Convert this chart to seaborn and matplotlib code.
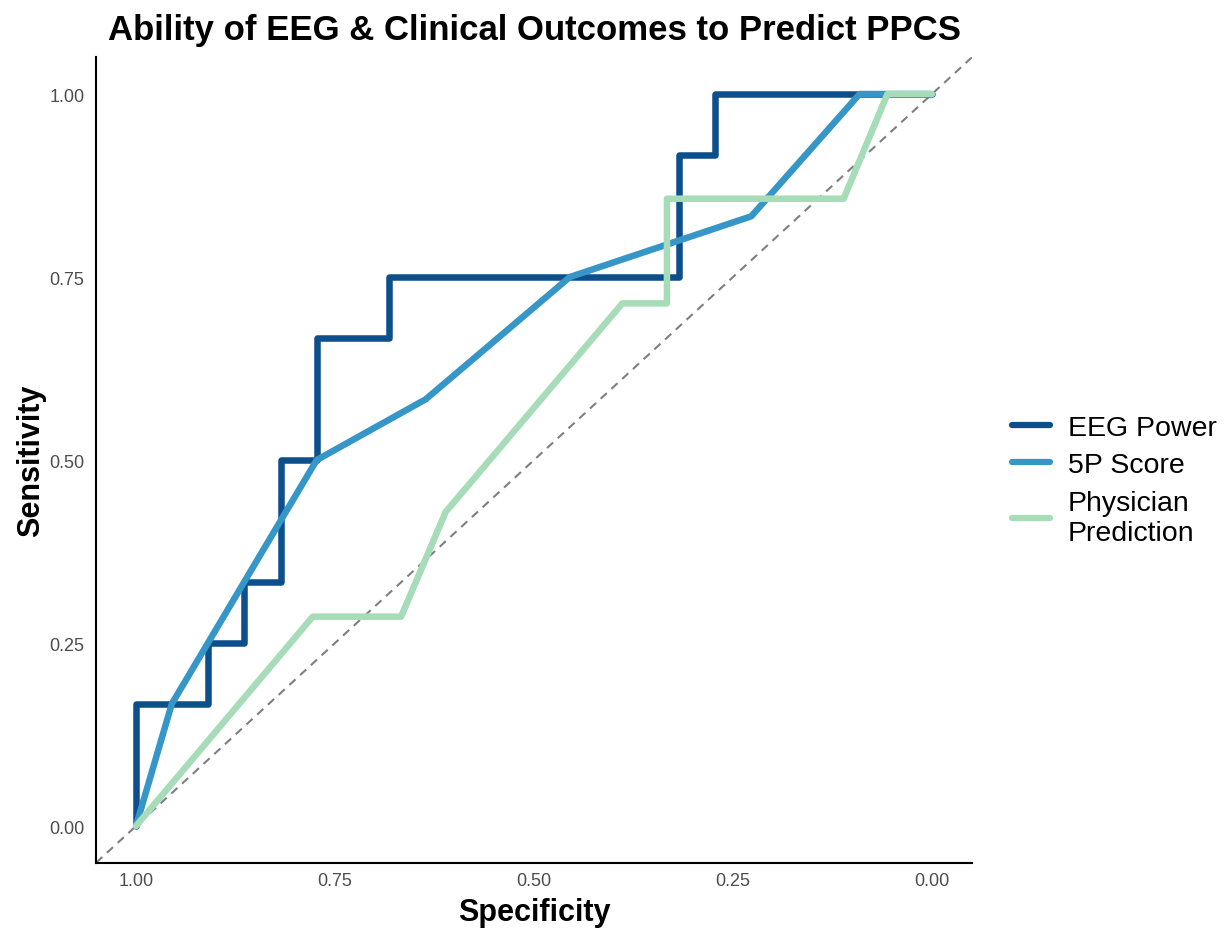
import matplotlib
matplotlib.use("Agg")
import matplotlib.pyplot as plt
import seaborn as sns
import pandas as pd

# ---- data ----
eeg_spec = [1.0, 1.0, 0.909, 0.909, 0.864, 0.864, 0.818, 0.818, 0.773, 0.773,
            0.682, 0.682, 0.318, 0.318, 0.273, 0.273, 0.0]
eeg_sens = [0.0, 0.167, 0.167, 0.25, 0.25, 0.333, 0.333, 0.5, 0.5, 0.667,
            0.667, 0.75, 0.75, 0.917, 0.917, 1.0, 1.0]

fivep_spec = [1.0, 0.955, 0.773, 0.636, 0.455, 0.227, 0.091, 0.0]
fivep_sens = [0.0, 0.167, 0.5, 0.583, 0.75, 0.833, 1.0, 1.0]

phys_spec = [1.0, 0.778, 0.667, 0.611, 0.389, 0.333, 0.333, 0.111, 0.056, 0.0]
phys_sens = [0.0, 0.286, 0.286, 0.429, 0.714, 0.714, 0.857, 0.857, 1.0, 1.0]

models = ["EEG Power", "5P Score", "Physician\nPrediction"]
colors = ["#0d4f8b", "#3596c7", "#a6dcb7"]

x_ticks = [1.00, 0.75, 0.50, 0.25, 0.00]
y_ticks = [0.00, 0.25, 0.50, 0.75, 1.00]

title = "Ability of EEG & Clinical Outcomes to Predict PPCS"
x_label = "Specificity"
y_label = "Sensitivity"

# ---- build long table ----
rows = []
for name, sp, se in zip(models, [eeg_spec, fivep_spec, phys_spec],
                        [eeg_sens, fivep_sens, phys_sens]):
    for i, (a, b) in enumerate(zip(sp, se)):
        rows.append({"model": name, "spec": a, "sens": b, "order": i})
df = pd.DataFrame(rows)

sns.set_theme(style="white")
plt.rcParams["font.family"] = ["Liberation Sans", "DejaVu Sans"]
plt.rcParams["text.color"] = "black"
plt.rcParams["axes.labelcolor"] = "black"

fig = plt.figure(figsize=(12.32, 9.29), dpi=100)
ax = fig.add_axes([0.0781, 0.0704, 0.7107, 0.8667])

# reference diagonal
ax.axline((1, 0), (0, 1), color="#7f7f7f", linestyle=(0, (4, 3)), linewidth=1.5, zorder=1)

sns.lineplot(data=df, x="spec", y="sens", hue="model", hue_order=models,
             palette=colors, sort=False, estimator=None, linewidth=4.7,
             solid_joinstyle="round", ax=ax, zorder=2)

ax.set_xlim(1.05, -0.05)
ax.set_ylim(-0.05, 1.05)
ax.set_xticks(x_ticks)
ax.set_xticklabels([f"{v:.2f}" for v in x_ticks])
ax.set_yticks(y_ticks)
ax.set_yticklabels([f"{v:.2f}" for v in y_ticks])
ax.tick_params(axis="both", length=0, labelsize=13, colors="#4d4d4d")
ax.tick_params(axis="x", pad=6.5)
ax.tick_params(axis="y", pad=8.5)

for s in ["top", "right"]:
    ax.spines[s].set_visible(False)
for s in ["left", "bottom"]:
    ax.spines[s].set_visible(True)
    ax.spines[s].set_color("black")
    ax.spines[s].set_linewidth(1.5)

ax.set_xlabel(x_label, fontsize=22, fontweight="bold", labelpad=6, color="black")
ax.set_ylabel(y_label, fontsize=22, fontweight="bold", labelpad=2, color="black")
ax.set_title(title, fontsize=25, fontweight="bold", pad=13, color="black")

handles, labels = ax.get_legend_handles_labels()
leg = ax.legend(handles=handles, labels=labels, loc="center left",
                bbox_to_anchor=(1.030, 0.475), frameon=False, fontsize=20.5,
                handlelength=1.34, handletextpad=0.62, labelspacing=0.4,
                borderpad=0)
for h in leg.legend_handles:
    h.set_linewidth(4.5)
for t in leg.get_texts():
    t.set_color("black")

fig.savefig("out.png", dpi=100)
